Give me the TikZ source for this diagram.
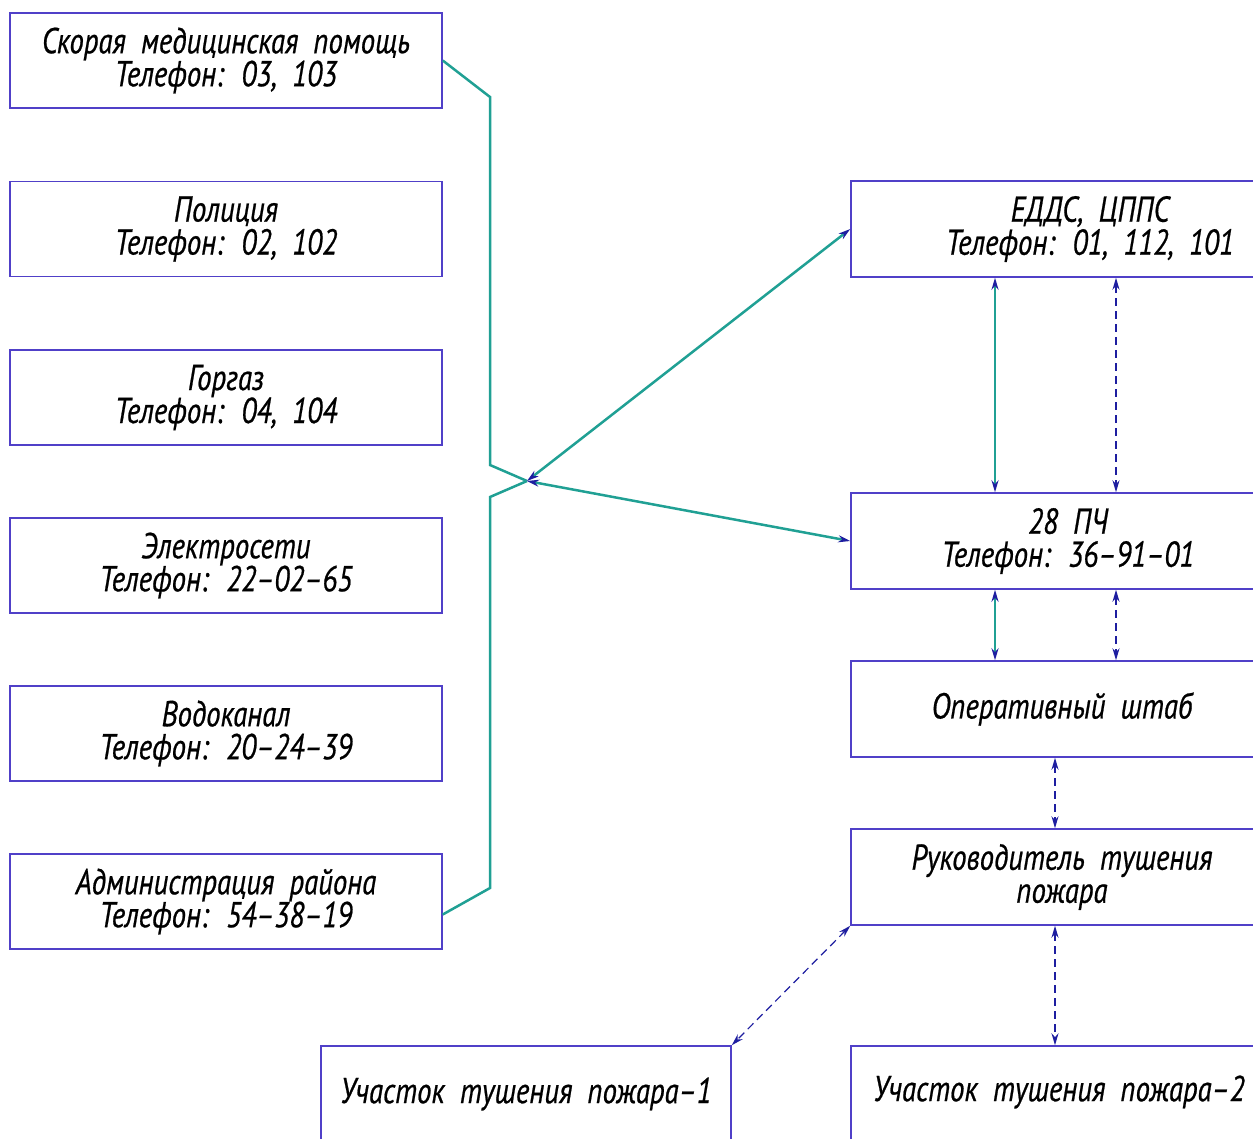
\documentclass[tikz,border=0pt]{standalone}
\usepackage{fontspec}
\newfontfamily\gost[FakeStretch=0.8,FakeBold=0.6]{PT Sans}
\newcommand\gostfont{\gost\itshape\fontsize{36}{33}\selectfont\spaceskip=0.42em\relax}
\usetikzlibrary{arrows.meta}
\definecolor{boxblue}{RGB}{80,64,200}
\definecolor{tealc}{RGB}{32,160,148}
\definecolor{tipblue}{RGB}{30,30,160}
\tikzset{
  x=1pt, y=-1pt,
  >={Stealth[length=12pt,width=7pt,color=tipblue]},
  txtfont/.style={font=\gostfont},
  boxL/.style={draw=boxblue, line width=1.5pt, minimum width=432pt, minimum height=95pt, align=center, inner sep=0pt, txtfont},
  boxR/.style={draw=boxblue, line width=1.5pt, minimum width=422pt, minimum height=96pt, align=center, inner sep=0pt, txtfont},
  plain/.style={align=center, inner sep=0pt, txtfont},
  tealline/.style={draw=tealc, line width=2.5pt},
  dashline/.style={draw=tipblue, line width=1.2pt, dash pattern=on 8pt off 5pt},
}
\begin{document}
\begin{tikzpicture}
\useasboundingbox (0,0) rectangle (1253,1138);
% left boxes
\node[boxL] (b1) at (226,60.5) {Скорая медицинская помощь\\Телефон: 03, 103};
\node[boxL] (b2) at (226,229) {Полиция\\Телефон: 02, 102};
\node[boxL] (b3) at (226,397.5) {Горгаз\\Телефон: 04, 104};
\node[boxL] (b4) at (226,565.5) {Электросети\\Телефон: 22–02–65};
\node[boxL] (b5) at (226,733.5) {Водоканал\\Телефон: 20–24–39};
\node[boxL] (b6) at (226,901.5) {Администрация района\\Телефон: 54–38–19};
% right boxes
\node[boxR] (edds) at (1062,229) {};
\node[plain] (eddst) at (1090,229) {ЕДДС, ЦППС\\Телефон: 01, 112, 101};
\node[boxR] (pch) at (1062,541) {};
\node[plain] (pcht) at (1068,541) {28 ПЧ\\Телефон: 36–91–01};
\node[boxR] (shtab) at (1062,709) {Оперативный штаб};
\node[boxR] (ruk) at (1062,877) {Руководитель тушения\\пожара};
\node[draw=boxblue, line width=1.5pt, minimum width=410pt, minimum height=96pt, inner sep=0pt, txtfont] (u1) at (526,1094) {Участок тушения пожара–1};
\node[boxR] (u2) at (1062,1094) {};
\node[plain] (u2t) at (1059,1092) {Участок тушения пожара–2};
% junction
\coordinate (J) at (527,481);
\coordinate (t1) at (490,97);
\coordinate (t2) at (490,465);
\coordinate (t3) at (490,497);
\coordinate (t4) at (490,888);
\draw[tealline] (b1.east) -- (t1) -- (t2) -- (J);
\draw[tealline] ([yshift=-13pt]b6.east) -- (t4) -- (t3) -- (J);
\draw[tealline, <->] (J) -- (edds.west);
\draw[tealline, <->] (J) -- (pch.west);
% verticals
\draw[tealline, <->] ([xshift=-67pt]edds.south) -- ([xshift=-67pt]pch.north);
\draw[dashline, <->] ([xshift=54pt]edds.south) -- ([xshift=54pt]pch.north);
\draw[tealline, <->] ([xshift=-67pt]pch.south) -- ([xshift=-67pt]shtab.north);
\draw[dashline, <->] ([xshift=54pt]pch.south) -- ([xshift=54pt]shtab.north);
\draw[dashline, <->] ([xshift=-7pt]shtab.south) -- ([xshift=-7pt]ruk.north);
\draw[dashline, <->] ([xshift=-7pt]ruk.south) -- ([xshift=-7pt]u2.north);
\draw[dashline, <->] (ruk.south west) -- (u1.north east);
\end{tikzpicture}
\end{document}
